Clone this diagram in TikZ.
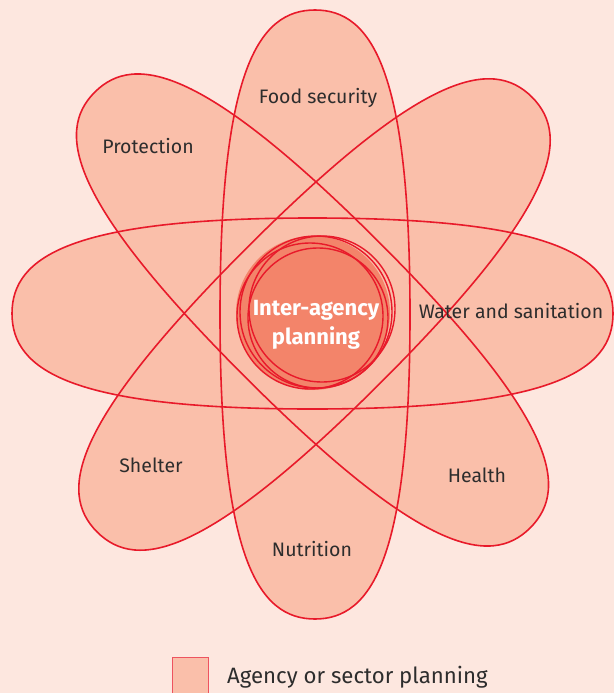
\documentclass[tikz,border=0pt]{standalone}
\usepackage{fontspec}
\setmainfont{Fira Sans}
\definecolor{bgpink}{RGB}{253,231,223}
\definecolor{petal}{RGB}{250,191,170}
\definecolor{core}{RGB}{243,132,106}
\definecolor{linered}{RGB}{232,26,42}
\definecolor{txt}{RGB}{45,45,45}
\newcommand\lobepath[2]{(#2,0) .. controls (#2,0.8*#1) and (0.6*#2,#1) .. (0,#1) .. controls (-0.6*#2,#1) and (-#2,0.8*#1) .. (-#2,0) .. controls (-#2,-0.8*#1) and (-0.6*#2,-#1) .. (0,-#1) .. controls (0.6*#2,-#1) and (#2,-0.8*#1) .. (#2,0) -- cycle}
\tikzset{
  lobefill/.style={fill=petal},
  lobeline/.style={draw=linered, line width=1.6pt},
  ringline/.style={draw=linered, line width=1.4pt},
  lab/.style={text=txt, inner sep=0pt, anchor=base, font=\fontsize{19.5}{23}\selectfont},
  corelab/.style={text=white, inner sep=0pt, align=center, font=\bfseries\fontsize{22}{29}\selectfont},
  legsquare/.style={draw=linered!75, fill=petal, line width=1pt, minimum size=36pt, inner sep=0pt, anchor=north west},
  legtext/.style={text=txt, inner sep=0pt, anchor=base west, font=\fontsize{22.2}{26}\selectfont}
}
\begin{document}
\begin{tikzpicture}[x=1pt,y=-1pt]
\fill[bgpink] (0,0) rectangle (614,693);
\useasboundingbox (0,0) rectangle (614,693);
% fills of the lobes
\path[lobefill, shift={(315,314.5)}] \lobepath{304.5}{95};
\path[lobefill, shift={(312.5,313.5)}, rotate=90] \lobepath{300.5}{95.5};
\path[lobefill, shift={(312.5,310)}, rotate=45] \lobepath{308}{95};
\path[lobefill, shift={(314.5,314.5)}, rotate=-45] \lobepath{307.5}{95};
% central circle fill
\fill[core] (313,313) circle[radius=77];
% outlines of the lobes
\path[lobeline, shift={(315,314.5)}] \lobepath{304.5}{95};
\path[lobeline, shift={(312.5,313.5)}, rotate=90] \lobepath{300.5}{95.5};
\path[lobeline, shift={(312.5,310)}, rotate=45] \lobepath{308}{95};
\path[lobeline, shift={(314.5,314.5)}, rotate=-45] \lobepath{307.5}{95};
% rings round the centre
\draw[ringline] (316,312) circle[radius=76];
\draw[ringline] (322,309) circle[radius=73];
\draw[ringline] (310,316) circle[radius=73];
\draw[ringline] (318,318) circle[radius=70];
% labels
\node[lab] (food) at (318,103) {Food security};
\node[lab] (prot) at (148,153) {Protection};
\node[lab] (water) at (511,318) {Water and sanitation};
\node[lab] (health) at (477,482) {Health};
\node[lab] (nutr) at (312,556) {Nutrition};
\node[lab] (shelter) at (151,472) {Shelter};
\node[corelab] (iap) at (316,325) {Inter-agency\\planning};
% legend
\node[legsquare] (legsq) at (172,657) {};
\node[legtext] (legtxt) at (227,683) {Agency or sector planning};
\end{tikzpicture}
\end{document}
